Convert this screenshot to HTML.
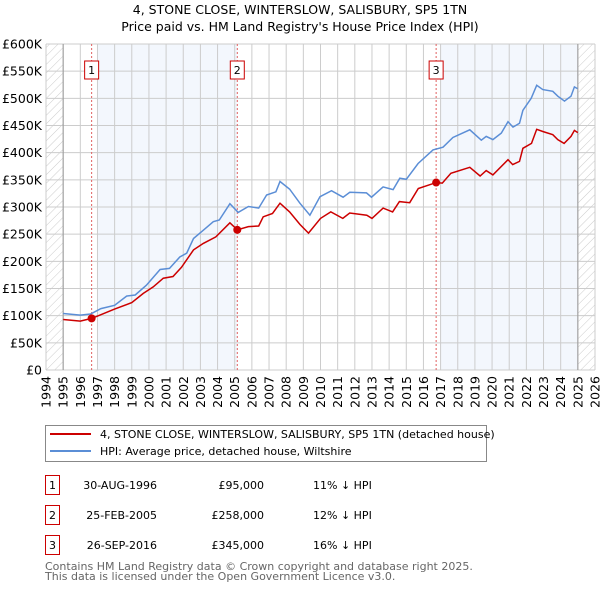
<!DOCTYPE html>
<html><head><meta charset="utf-8"><style>
body{margin:0;background:#fff;font-family:"DejaVu Sans","Liberation Sans",sans-serif;}
svg text{font-family:"DejaVu Sans","Liberation Sans",sans-serif;}
</style></head><body>
<svg id="chart" width="600" height="590" viewBox="0 0 600 590" xmlns="http://www.w3.org/2000/svg">
<defs><pattern id="hatch" width="6" height="6" patternUnits="userSpaceOnUse" patternTransform="rotate(45)"><line x1="0" y1="0" x2="0" y2="6" stroke="#ccc" stroke-width="1"/></pattern></defs>
<text x="300" y="14" text-anchor="middle" font-size="12.5">4, STONE CLOSE, WINTERSLOW, SALISBURY, SP5 1TN</text>
<text x="300" y="31" text-anchor="middle" font-size="12.5">Price paid vs. HM Land Registry's House Price Index (HPI)</text>
<g id="plot"></g>
<g>
<rect x="45.5" y="425.5" width="441" height="36" fill="#fff" stroke="#888"/>
<line x1="50" y1="434" x2="91" y2="434" stroke="#cc0000" stroke-width="2"/>
<text x="100" y="438" font-size="11">4, STONE CLOSE, WINTERSLOW, SALISBURY, SP5 1TN (detached house)</text>
<line x1="50" y1="451" x2="91" y2="451" stroke="#5b8ed6" stroke-width="2"/>
<text x="100" y="455" font-size="11">HPI: Average price, detached house, Wiltshire</text>
</g>
<g id="table"></g>
<text x="45" y="570" font-size="11" fill="#666">Contains HM Land Registry data © Crown copyright and database right 2025.</text>
<text x="45" y="580" font-size="11" fill="#666">This data is licensed under the Open Government Licence v3.0.</text>
</svg>
<script>
const yTicks=[0,50,100,150,200,250,300,350,400,450,500,550,600];
const yTickLabels=["£0","£50K","£100K","£150K","£200K","£250K","£300K","£350K","£400K","£450K","£500K","£550K","£600K"];
const xYears=[1994,1995,1996,1997,1998,1999,2000,2001,2002,2003,2004,2005,2006,2007,2008,2009,2010,2011,2012,2013,2014,2015,2016,2017,2018,2019,2020,2021,2022,2023,2024,2025,2026];
const hpiYears=[1995.0,1996.0,1996.6,1997.2,1998.0,1998.7,1999.2,1999.85,2000.65,2001.2,2001.8,2002.2,2002.6,2003.2,2003.75,2004.1,2004.72,2005.2,2005.8,2006.4,2006.86,2007.4,2007.64,2008.2,2008.8,2009.38,2009.97,2010.64,2011.32,2011.71,2012.68,2012.97,2013.65,2014.23,2014.62,2015.0,2015.69,2016.56,2017.14,2017.72,2018.7,2019.37,2019.66,2020.05,2020.54,2020.93,2021.22,2021.6,2021.8,2022.28,2022.6,2022.96,2023.54,2023.83,2024.22,2024.6,2024.8,2024.98];
const hpiValues=[104,101,103,113,119,136,138,156,185,187,208,215,242,258,273,276,306,290,301,298,322,328,347,333,307,285,319,330,318,327,326,318,337,332,353,351,380,405,410,428,442,423,430,424,436,457,447,454,478,500,524,516,513,504,495,504,521,518];
const ppYears=[1995.0,1996.0,1996.66,1997.15,1998.0,1999.0,1999.67,2000.25,2000.84,2001.4,2001.9,2002.6,2003.17,2003.9,2004.72,2005.15,2005.8,2006.4,2006.66,2007.2,2007.64,2008.2,2008.8,2009.3,2010.0,2010.6,2011.3,2011.7,2012.7,2013.0,2013.65,2014.2,2014.6,2015.2,2015.7,2016.74,2017.1,2017.6,2018.7,2019.3,2019.66,2020.05,2020.93,2021.2,2021.6,2021.8,2022.3,2022.6,2022.96,2023.54,2023.83,2024.2,2024.6,2024.8,2025.0];
const ppValues=[93,90,95,101,112,124,141,153,169,172,189,221,233,245,271,258,264,265,282,288,307,291,268,252,279,291,279,289,285,279,298,291,310,308,334,345,344,362,373,357,367,359,387,378,384,408,417,443,439,433,424,417,430,441,437];
const saleIds=["1","2","3"];
const saleYears=[1996.66,2005.15,2016.74];
const saleValues=[95,258,345];
const saleDates=["30-AUG-1996","25-FEB-2005","26-SEP-2016"];
const salePrices=["£95,000","£258,000","£345,000"];
const saleDiffs=["11% ↓ HPI","12% ↓ HPI","16% ↓ HPI"];
const shadeRanges=[[1997,2005.15],[2017,2025]];

const NS="http://www.w3.org/2000/svg";
const L=46,R=595,T=44,B=370;
const xS=y=>L+(y-1994)/(2026-1994)*(R-L);
const yS=v=>B-v/600*(B-T);
function mk(tag,attrs,parent){const e=document.createElementNS(NS,tag);for(const k in attrs)e.setAttribute(k,attrs[k]);parent.appendChild(e);return e;}
const plot=document.getElementById('plot');
mk('rect',{x:L,y:T,width:R-L,height:B-T,fill:'#fff'},plot);
shadeRanges.forEach(r=>{const e=mk('rect',{x:xS(r[0]),y:T,width:xS(r[1])-xS(r[0]),height:B-T,fill:'#eef3fc',opacity:0.7},plot);

});
const h1=mk('rect',{x:L,y:T,width:xS(1995)-L,height:B-T,fill:'url(#hatch)'},plot);


const h2=mk('rect',{x:xS(2025),y:T,width:R-xS(2025),height:B-T,fill:'url(#hatch)'},plot);


yTicks.forEach((v,i)=>{mk('line',{x1:L,x2:R,y1:yS(v),y2:yS(v),stroke:'#ccc','stroke-width':1},plot);
const t=mk('text',{x:L-4,y:yS(v)+4.5,'text-anchor':'end','font-size':12.5},plot);t.textContent=yTickLabels[i];

});
xYears.forEach(y=>{mk('line',{x1:xS(y),x2:xS(y),y1:T,y2:B,stroke:'#ccc','stroke-width':1},plot);
const t=mk('text',{x:0,y:0,'text-anchor':'end','font-size':12.5,transform:`translate(${xS(y)+4.5},376) rotate(-90)`},plot);t.textContent=y;

});
mk('line',{x1:xS(1995),x2:xS(1995),y1:T,y2:B,stroke:'#999','stroke-width':1},plot);
mk('line',{x1:xS(2025),x2:xS(2025),y1:T,y2:B,stroke:'#999','stroke-width':1},plot);
saleYears.forEach((y,i)=>{const l=mk('line',{x1:xS(y),x2:xS(y),y1:T,y2:B,stroke:'#e06060','stroke-width':1,'stroke-dasharray':'2,2'},plot);


const b=mk('rect',{x:xS(y)-7,y:61,width:14,height:18,fill:'#fff',stroke:'#cc0000'},plot);


const t=mk('text',{x:xS(y),y:74,'text-anchor':'middle','font-size':11},plot);t.textContent=saleIds[i];});
function path(xs,vs){return xs.map((x,i)=>(i?'L':'M')+xS(x).toFixed(1)+','+yS(vs[i]).toFixed(1)).join('');}
const hp=mk('path',{d:path(hpiYears,hpiValues),fill:'none',stroke:'#5b8ed6','stroke-width':1.5},plot);


const pp=mk('path',{d:path(ppYears,ppValues),fill:'none',stroke:'#cc0000','stroke-width':1.5},plot);


saleYears.forEach((y,i)=>{const c=mk('circle',{cx:xS(y),cy:yS(saleValues[i]),r:4,fill:'#cc0000'},plot);

});
const tb=document.getElementById('table');
saleIds.forEach((id,i)=>{const y0=475+i*30;
const b=mk('rect',{x:45.5,y:y0+0.5,width:14,height:19,fill:'#fff',stroke:'#cc0000'},tb);


let t=mk('text',{x:52.5,y:y0+14,'text-anchor':'middle','font-size':11},tb);t.textContent=id;
t=mk('text',{x:157,y:y0+14,'text-anchor':'end','font-size':11},tb);t.textContent=saleDates[i];


t=mk('text',{x:264,y:y0+14,'text-anchor':'end','font-size':11},tb);t.textContent=salePrices[i];


t=mk('text',{x:313,y:y0+14,'font-size':11},tb);t.textContent=saleDiffs[i];

});
</script>
</body></html>
